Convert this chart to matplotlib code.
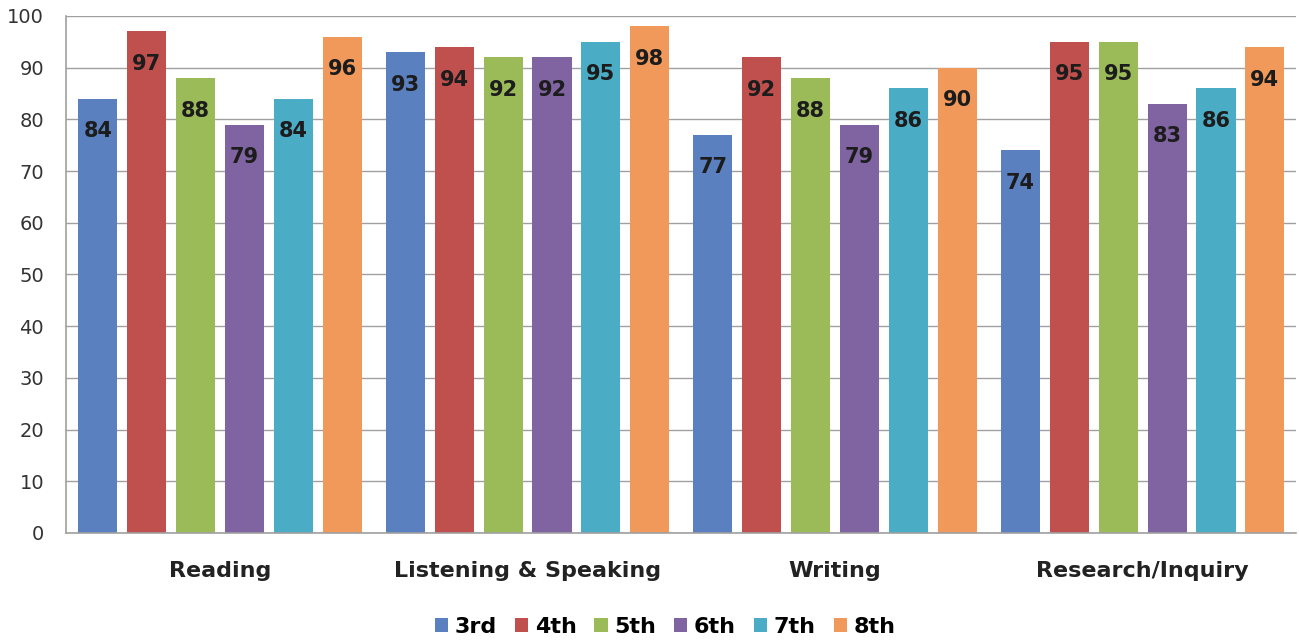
import numpy as np
import matplotlib.pyplot as plt

# Data
categories = ['Reading', 'Listening & Speaking', 'Writing', 'Research/Inquiry']
grades = ['3rd', '4th', '5th', '6th', '7th', '8th']
g3 = [84, 93, 77, 74]
g4 = [97, 94, 92, 95]
g5 = [88, 92, 88, 95]
g6 = [79, 92, 79, 83]
g7 = [84, 95, 86, 86]
g8 = [96, 98, 90, 94]
series = [g3, g4, g5, g6, g7, g8]
colors = ['#5a80c0', '#c0504d', '#9bbb59', '#8064a2', '#4bacc6', '#f0995a']

fig = plt.figure(figsize=(12.99, 6.41), dpi=100)
ax = fig.add_axes([0.051, 0.1685, 0.947, 0.8066])

x = np.arange(len(categories)) + 0.5
pitch = 0.159
width = 0.127

for i, (vals, col) in enumerate(zip(series, colors)):
    pos = x + (i - 2.5) * pitch
    bars = ax.bar(pos, vals, width, color=col, label=grades[i], zorder=2)
    for b, v in zip(bars, vals):
        ax.text(b.get_x() + b.get_width() / 2, v - 6.3, str(v),
                ha='center', va='center', fontsize=15, fontweight='bold',
                color='#1c1c1c', zorder=3)

ax.set_xlim(0, 4)
ax.set_ylim(0, 100)
ax.set_yticks(range(0, 101, 10))
ax.set_xticks(x)
ax.set_xticklabels(categories, fontsize=16, fontweight='bold', color='#222222')
ax.tick_params(axis='x', length=0, pad=20)
ax.tick_params(axis='y', length=0, labelsize=14, colors='#333333', pad=16)
ax.yaxis.grid(True, color='#a0a0a0', linewidth=1.0, zorder=0)
ax.set_axisbelow(True)
for s in ['top', 'right']:
    ax.spines[s].set_visible(False)
ax.spines['left'].set_color('#a0a0a0')
ax.spines['bottom'].set_color('#a0a0a0')
ax.spines['left'].set_linewidth(1.2)
ax.spines['bottom'].set_linewidth(1.2)

leg = fig.legend(loc='lower center', bbox_to_anchor=(0.512, -0.025), ncol=6,
                 frameon=False, prop={'size': 16, 'weight': 'bold'},
                 handlelength=0.6, handleheight=0.6, handletextpad=0.3,
                 columnspacing=0.8)

fig.savefig('out.png', dpi=100)
